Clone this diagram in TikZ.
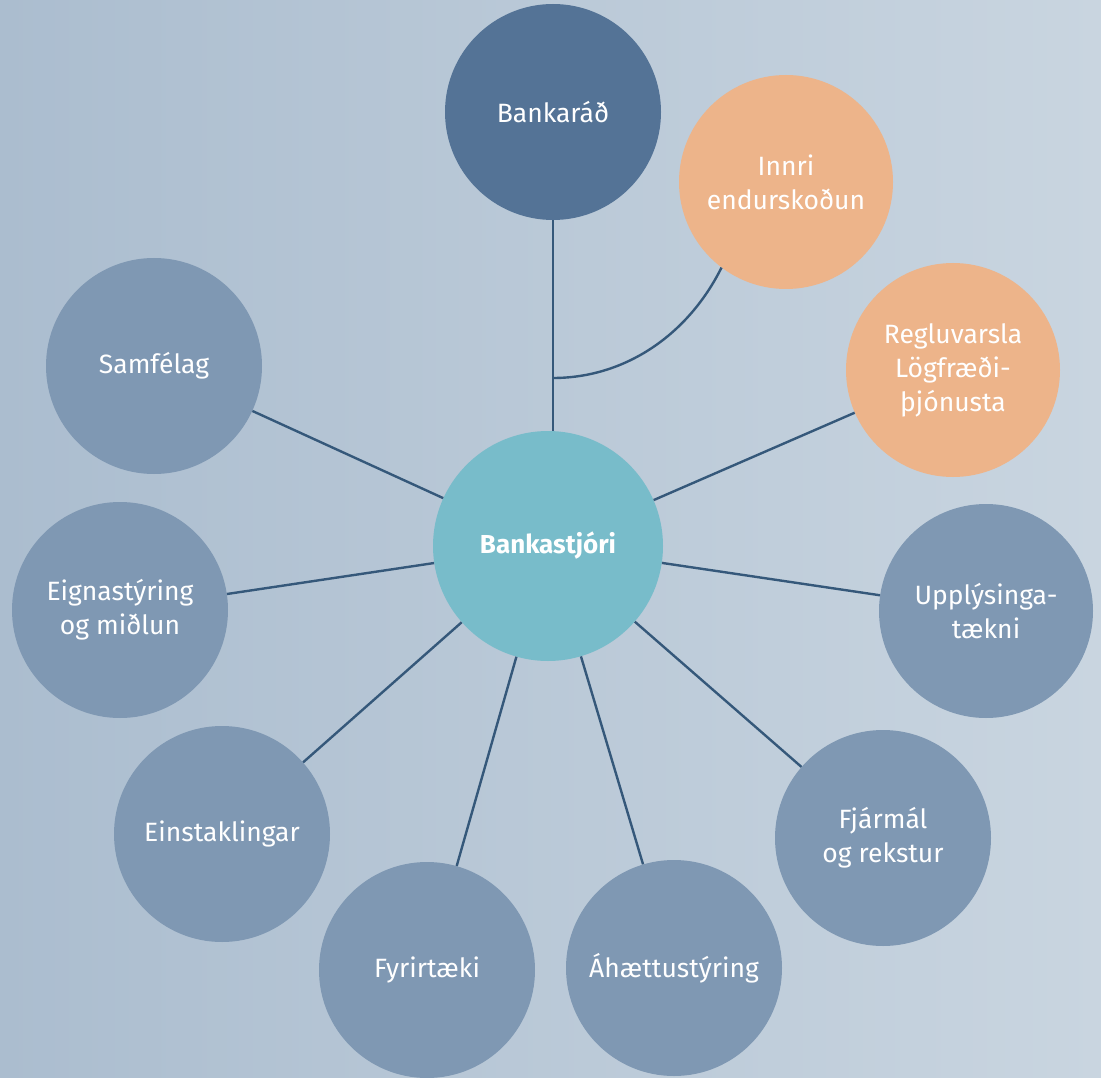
\documentclass[tikz,border=0pt]{standalone}
\usepackage{fontspec}
\setmainfont{Fira Sans}
\definecolor{bgL}{HTML}{ABBDCF}
\definecolor{bgR}{HTML}{C9D5E0}
\definecolor{board}{HTML}{547396}
\definecolor{orng}{HTML}{EDB48A}
\definecolor{ctr}{HTML}{78BCCA}
\definecolor{unit}{HTML}{7F98B3}
\definecolor{lnk}{HTML}{35587A}
\begin{document}
\begin{tikzpicture}[x=1pt,y=-1pt,
  bub/.style={circle,minimum size=216pt,inner sep=0pt,align=center,text=white,
    font=\fontsize{26.5}{34}\selectfont},
  unitbub/.style={bub,fill=unit},
  orngbub/.style={bub,fill=orng},
  link/.style={draw=lnk,line width=2.4pt}]
\shade[left color=bgL,right color=bgR] (0,0) rectangle (1101,1078);
\useasboundingbox (0,0) rectangle (1101,1078);
\node[bub,fill=ctr,minimum size=230pt,font=\fontsize{26}{34}\selectfont\bfseries] (c) at (548,546) {Bankastjóri};
\node[bub,fill=board] (b) at (553,112) {Bankaráð};
\node[orngbub,minimum size=214pt] (i) at (786,182) {Innri\\endurskoðun};
\node[orngbub,minimum size=214pt] (r) at (953,370) {Regluvarsla\\Lögfræði-\\þjónusta};
\node[unitbub] (s) at (154,366) {Samfélag};
\node[unitbub] (e) at (120,610) {Eignastýring\\og miðlun};
\node[unitbub,minimum size=214pt] (u) at (986,611) {Upplýsinga-\\tækni};
\node[unitbub] (ei) at (222,834) {Einstaklingar};
\node[unitbub] (f) at (427,970) {Fyrirtæki};
\node[unitbub] (a) at (674,968) {Áhættustýring};
\node[unitbub] (fj) at (883,838) {Fjármál\\og rekstur};
\coordinate (j) at (b.south |- 0,378);
\draw[link] (b.south) -- (b.south |- c.north);
\draw[link] (j) .. controls (625,378) and (688,335) .. (i.-127);
\foreach \n in {r,s,e,u,ei,f,a,fj} \draw[link] (c) -- (\n);
\end{tikzpicture}
\end{document}
